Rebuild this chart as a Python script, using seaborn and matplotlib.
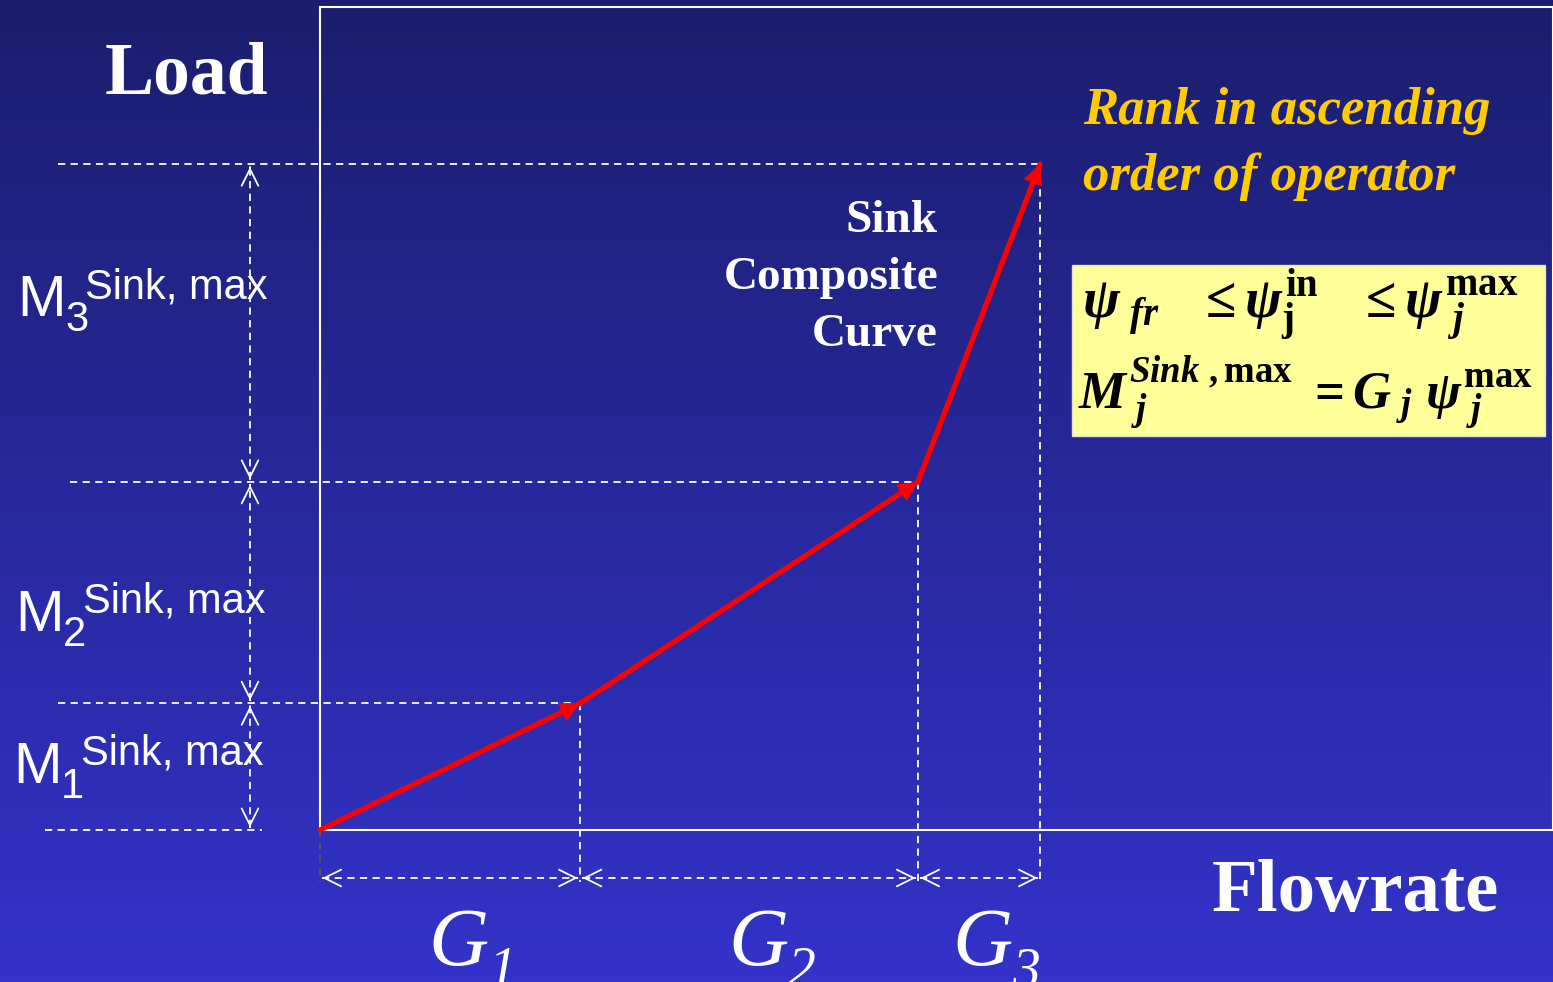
import numpy as np
import pandas as pd
import matplotlib
matplotlib.use("Agg")
import matplotlib.pyplot as plt
from matplotlib.patches import Rectangle
import seaborn as sns

# ---------------- data ----------------
flow_names = ["1", "2", "3"]            # G_j subscripts
flows = [21.1, 27.4, 9.9]               # G_j (flowrate segments)
load_names = ["1", "2", "3"]            # M_j^{Sink,max} subscripts
loads = [15.4, 26.9, 38.6]              # M_j^{Sink,max} (load segments)

x_label = "Flowrate"
y_label = "Load"
curve_label = "Sink\nComposite\nCurve"
note_text = "Rank in ascending\norder of operator"
eq1 = r"$\psi_{\ fr}\;\;\ \leq \psi_{\mathrm{j}}^{\mathrm{in}}\;\;\ \leq \psi_{\ j}^{\mathrm{max}}$"
eq2 = r"$M_{\ j}^{Sink\ ,\mathrm{max}}\ = G_{\ j}\ \psi_{\ j}^{\mathrm{max}}$"

# ---------------- style ----------------
sns.set_theme(style="white")
plt.rcParams["font.family"] = ["Liberation Serif", "DejaVu Sans"]
plt.rcParams["mathtext.fontset"] = "custom"
plt.rcParams["mathtext.rm"] = "Liberation Serif:bold"
plt.rcParams["mathtext.it"] = "Liberation Serif:bold:italic"
plt.rcParams["mathtext.bf"] = "Liberation Serif:bold"

W, H = 1553, 982
fig = plt.figure(figsize=(W / 100, H / 100), dpi=100)

def fx(px):
    return px / W

def fy(py):
    return 1 - py / H

# gradient background
bg = fig.add_axes([0, 0, 1, 1])
bg.axis("off")
top = np.array([27, 30, 110]) / 255
bot = np.array([51, 51, 202]) / 255
t = np.linspace(0, 1, 256)[:, None]
grad = top[None, :] * (1 - t) + bot[None, :] * t
bg.imshow(grad[:, None, :], aspect="auto", extent=[0, 1, 0, 1])
bg.set_xlim(0, 1)
bg.set_ylim(0, 1)

# main axes
AX_L, AX_T, AX_R, AX_B = 320, 7, 1553, 830
ax = fig.add_axes([fx(AX_L), fy(AX_B), (AX_R - AX_L) / W, (AX_B - AX_T) / H])
ax.set_facecolor("none")
XMAX, YMAX = 100, 100
ax.set_xlim(0, XMAX)
ax.set_ylim(0, YMAX)
ax.set_xticks([])
ax.set_yticks([])
for s in ax.spines.values():
    s.set_color("white")
    s.set_linewidth(1.5)

sx = (AX_R - AX_L) / XMAX
sy = (AX_B - AX_T) / YMAX

def dx(px):   # pixel -> data x
    return (px - AX_L) / sx

def dy(py):   # pixel -> data y
    return (AX_B - py) / sy

xc = np.concatenate([[0], np.cumsum(flows)])
yc = np.concatenate([[0], np.cumsum(loads)])

dash = (0, (4, 3))
wkw = dict(color="white", lw=1.3, ls=dash, clip_on=False)

def head(tip, frm, color="white", style="->", ms=30, lw=1.3):
    tip = np.asarray(tip, float)
    frm = np.asarray(frm, float)
    d = tip - frm
    d = d / np.hypot(*d)
    ax.annotate("", xy=tip, xytext=tip - d * 0.05,
                arrowprops=dict(arrowstyle=style, color=color, lw=lw,
                                mutation_scale=ms, shrinkA=0, shrinkB=0),
                annotation_clip=False)

# horizontal dashed level lines
left_ext = [45, 58, 70, 58]
for i in range(4):
    xe = xc[i] if i > 0 else dx(262)
    ax.plot([dx(left_ext[i]), xe], [yc[i], yc[i]], **wkw)

# vertical dashed drop lines
YARR = dy(878)
for i in range(1, 4):
    ax.plot([xc[i], xc[i]], [yc[i], dy(882)], **wkw)
ax.plot([0, 0], [0, dy(882)], color="#555555", lw=1.3, ls=dash, clip_on=False)

# vertical double arrows (loads)
XARR = dx(250)
for i in range(3):
    y0 = yc[i] + 0.35
    y1 = yc[i + 1] - 0.35
    ax.plot([XARR, XARR], [y0, y1], **wkw)
    head((XARR, y0), (XARR, y1))
    head((XARR, y1), (XARR, y0))

# horizontal double arrows (flows)
for i in range(3):
    x0 = xc[i] + 0.2
    x1 = xc[i + 1] - 0.2
    ax.plot([x0, x1], [YARR, YARR], **wkw)
    head((x0, YARR), (x1, YARR))
    head((x1, YARR), (x0, YARR))

# composite curve
df = pd.DataFrame({"flow": xc, "load": yc})
sns.lineplot(data=df, x="flow", y="load", ax=ax, color="#ff0000", lw=3.8,
             clip_on=False, zorder=5)
for i in range(1, 4):
    head((xc[i], yc[i]), (xc[i - 1], yc[i - 1]), color="#ff0000",
         style="-|>", ms=32, lw=1)
ax.set_xlabel("")
ax.set_ylabel("")

# ---------------- texts ----------------
fig.text(fx(186), fy(76), y_label, color="white", fontsize=53,
         fontweight="bold", ha="center", va="center")
fig.text(fx(1355), fy(893), x_label, color="white", fontsize=54,
         fontweight="bold", ha="center", va="center")
fig.text(fx(938), fy(278), curve_label, color="white", fontsize=34,
         fontweight="bold", ha="right", va="center", multialignment="right",
         linespacing=1.48)
fig.text(fx(1083), fy(144), note_text, color="#ffcc00", fontsize=38,
         fontweight="bold", fontstyle="italic", ha="left", va="center",
         linespacing=1.45)

# equation box
fig.add_artist(Rectangle((fx(1072), fy(436)), fx(1545) - fx(1072),
                         fy(265) - fy(436), transform=fig.transFigure,
                         facecolor="#ffff99", edgecolor="#e0e0e0", lw=1))
fig.text(fx(1082), fy(305), eq1, color="black", fontsize=40,
         ha="left", va="center")
fig.text(fx(1078), fy(393), eq2, color="black", fontsize=38,
         ha="left", va="center")

# load labels M_j^{Sink,max}
sans = "Liberation Sans"
m_pos = [(13, 783), (15, 631), (17, 316)]
for name, (lx, by) in zip(load_names, m_pos):
    fig.text(fx(lx), fy(by), "M", color="white", fontsize=42,
             family=sans, va="baseline", ha="left")
    fig.text(fx(lx + 48), fy(by + 15), name, color="white", fontsize=30,
             family=sans, va="baseline", ha="left")
    fig.text(fx(lx + 68), fy(by - 18), "Sink, max", color="white",
             fontsize=30, family=sans, va="baseline", ha="left")

# flow labels G_j
g_pos = [428, 728, 952]
for name, gx in zip(flow_names, g_pos):
    fig.text(fx(gx), fy(965), "G", color="white", fontsize=60,
             fontstyle="italic", va="baseline", ha="left")
    fig.text(fx(gx + 60), fy(986), name, color="white", fontsize=40,
             fontstyle="italic", va="baseline", ha="left")

fig.savefig("out.png", dpi=100)
